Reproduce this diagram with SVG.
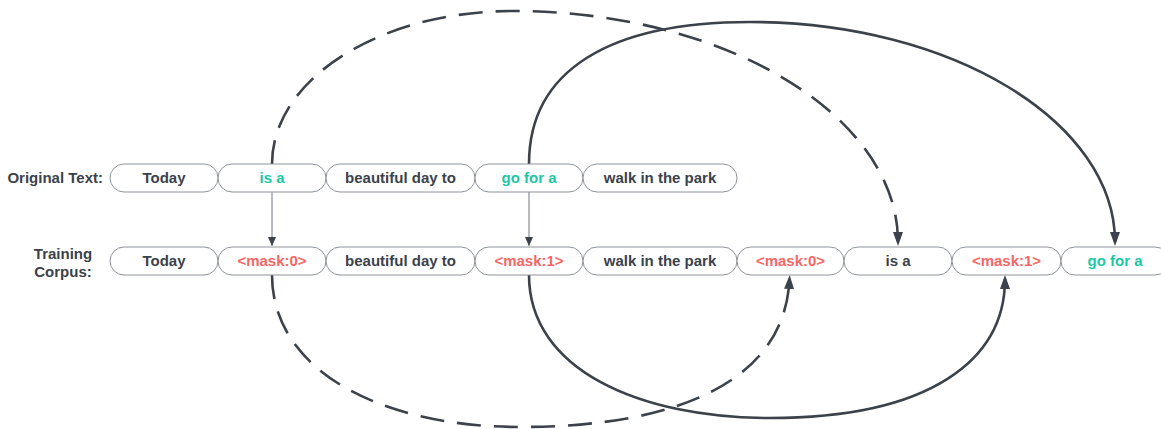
<svg xmlns="http://www.w3.org/2000/svg" width="1161" height="429" viewBox="0 0 1161 429">
<defs>
<style>
.box{fill:#ffffff;stroke:#8f949a;stroke-width:1}
.t{font-family:"Liberation Sans",Arial,sans-serif;font-weight:bold;font-size:15px;text-anchor:middle;fill:#3b424b}
.lbl{font-family:"Liberation Sans",Arial,sans-serif;font-weight:bold;font-size:15px;fill:#3b424b}
.teal{fill:#1cc7a6}
.red{fill:#f76767}
.thin{fill:none;stroke:#6f757c;stroke-width:1}
.curve{fill:none;stroke:#3b424b;stroke-width:2.6}
.dash{stroke-dasharray:24 13}
</style>
<marker id="big" markerUnits="userSpaceOnUse" markerWidth="16" markerHeight="12" refX="10" refY="5" orient="auto">
<path d="M0,0 L14,5 L0,10 z" fill="#3b424b"/>
</marker>
<marker id="small" markerUnits="userSpaceOnUse" markerWidth="10" markerHeight="10" refX="9" refY="4" orient="auto">
<path d="M0,0 L9,4 L0,8 z" fill="#3b424b"/>
</marker>
</defs>
<rect width="1161" height="429" fill="#ffffff"/>

<text class="lbl" x="103" y="183" text-anchor="end">Original Text:</text>
<text class="lbl" x="63" y="259" text-anchor="middle">Training</text>
<text class="lbl" x="63" y="277" text-anchor="middle">Corpus:</text>

<g id="connectors">
<path class="thin" d="M272,192 L272,246" marker-end="url(#small)"/>
<path class="thin" d="M529,192 L529,246" marker-end="url(#small)"/>
<path class="curve dash" d="M272,164 C272,79 380,11 513,11 C726,11 898,116 898,242" marker-end="url(#big)"/>
<path class="curve" d="M529,164 C529,70 610,22 750,22 C952,22 1115,122 1115,242" marker-end="url(#big)"/>
<path class="curve dash" d="M272,275 C272,370 380,427 520,427 C680,427 785,380 789.5,279" marker-end="url(#big)"/>
<path class="curve" d="M529,275 C529,370 640,418 770,418 C930,418 1005,360 1005,279" marker-end="url(#big)"/>
</g>

<g id="o-today"><rect class="box" x="110" y="164" width="108" height="28" rx="14"/><text class="t" x="164" y="183">Today</text></g>
<g id="o-isa"><rect class="box" x="218" y="164" width="108" height="28" rx="14"/><text class="t teal" x="272" y="183">is a</text></g>
<g id="o-beautiful"><rect class="box" x="326" y="164" width="149" height="28" rx="14"/><text class="t" x="400.5" y="183">beautiful day to</text></g>
<g id="o-gofora"><rect class="box" x="475" y="164" width="108" height="28" rx="14"/><text class="t teal" x="529" y="183">go for a</text></g>
<g id="o-walk"><rect class="box" x="583" y="164" width="154" height="28" rx="14"/><text class="t" x="660" y="183">walk in the park</text></g>

<g id="c-today"><rect class="box" x="110" y="247" width="108" height="28" rx="14"/><text class="t" x="164" y="266">Today</text></g>
<g id="c-mask0"><rect class="box" x="218" y="247" width="108" height="28" rx="14"/><text class="t red" x="272" y="266">&lt;mask:0&gt;</text></g>
<g id="c-beautiful"><rect class="box" x="326" y="247" width="149" height="28" rx="14"/><text class="t" x="400.5" y="266">beautiful day to</text></g>
<g id="c-mask1"><rect class="box" x="475" y="247" width="108" height="28" rx="14"/><text class="t red" x="529" y="266">&lt;mask:1&gt;</text></g>
<g id="c-walk"><rect class="box" x="583" y="247" width="154" height="28" rx="14"/><text class="t" x="660" y="266">walk in the park</text></g>
<g id="c-mask0b"><rect class="box" x="737" y="247" width="107" height="28" rx="14"/><text class="t red" x="790.5" y="266">&lt;mask:0&gt;</text></g>
<g id="c-isa"><rect class="box" x="844" y="247" width="108" height="28" rx="14"/><text class="t" x="898" y="266">is a</text></g>
<g id="c-mask1b"><rect class="box" x="952" y="247" width="109" height="28" rx="14"/><text class="t red" x="1006.5" y="266">&lt;mask:1&gt;</text></g>
<g id="c-gofora"><rect class="box" x="1061" y="247" width="108" height="28" rx="14"/><text class="t teal" x="1115" y="266">go for a</text></g>
</svg>
